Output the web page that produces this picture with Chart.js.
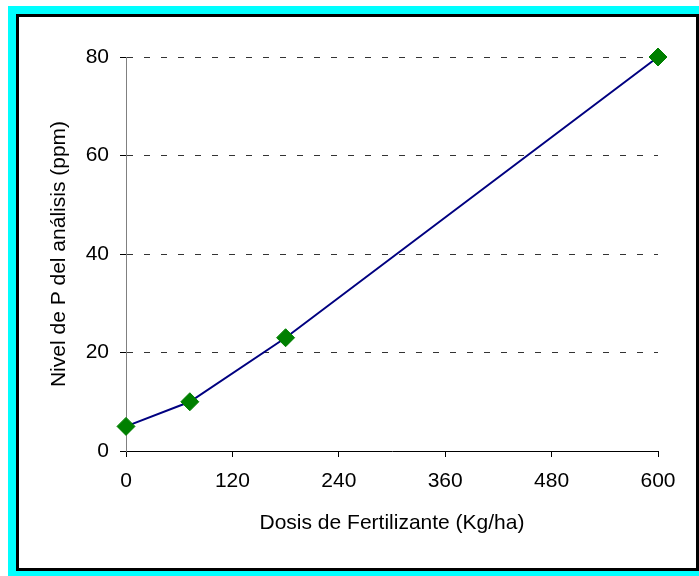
<!DOCTYPE html>
<html>
<head>
<meta charset="utf-8">
<script src="https://cdn.jsdelivr.net/npm/chart.js@4"></script>
<style>
  html, body { margin: 0; padding: 0; background: #fff; overflow: hidden; }
  #frame { position: absolute; left: 8px; top: 6px; width: 691px; height: 570px; background: #00ffff; }
  #box { position: absolute; left: 8px; top: 8px; width: 677px; height: 551px; border: 3px solid #000; background: #fff; }
  #myChart { display: block; }
</style>
</head>
<body>
<div id="frame">
  <div id="box">
    <canvas id="myChart" width="677" height="551"></canvas>
  </div>
</div>
<script>
// dosis (Kg/ha) vs nivel de P (ppm)
const dosis = [0, 72, 180, 600];
const nivelP = [5, 10, 23, 80];
const xTicks = [0, 120, 240, 360, 480, 600];
const yTicks = [0, 20, 40, 60, 80];

const fontFam = 'Arial, "Liberation Sans", sans-serif';

const ctx = document.getElementById('myChart').getContext('2d');
const chart = new Chart(ctx, {
	type: 'scatter',
	data: {
		datasets: [{
			data: dosis.map((d, i) => ({ x: d, y: nivelP[i] })),
			showLine: true,
			clip: false,
			borderColor: '#000080',
			borderWidth: 2,
			pointStyle: 'rectRot',
			pointRadius: 9,
			pointHoverRadius: 9,
			pointBackgroundColor: '#008000',
			pointBorderColor: '#008000',
			pointBorderWidth: 1
		}]
	},
	options: {
		responsive: false,
		animation: false,
		layout: { padding: { left: 0, right: 38, top: 40, bottom: 0 } },
		plugins: { legend: { display: false }, tooltip: { enabled: false } },
		scales: {
			x: {
				type: 'linear',
				min: 0,
				max: 600,
				afterBuildTicks: (s) => { s.ticks = xTicks.map(v => ({ value: v })); },
				afterFit: (s) => { s.height = 117; },
				grid: { drawOnChartArea: false, drawTicks: true, tickLength: 6, tickColor: '#000', tickWidth: 1 },
				border: { color: '#000', width: 1 },
				ticks: { color: '#000', font: { family: fontFam, size: 21 }, padding: 12, maxRotation: 0 },
				title: {
					display: true,
					text: 'Dosis de Fertilizante (Kg/ha)',
					color: '#000',
					font: { family: fontFam, size: 21 },
					padding: { top: 0, bottom: 32 }
				}
			},
			y: {
				min: 0,
				max: 80,
				afterBuildTicks: (s) => { s.ticks = yTicks.map(v => ({ value: v })); },
				afterFit: (s) => { s.width = 107; },
				grid: {
					color: (c) => c.tick && c.tick.value === 0 ? 'rgba(0,0,0,0)' : '#333',
					lineWidth: 1,
					drawTicks: true,
					tickLength: 6,
					tickColor: '#000',
					tickBorderDash: []
				},
				border: { color: '#808080', width: 1, dash: [6, 11] },
				ticks: { color: '#000', font: { family: fontFam, size: 21 }, padding: 11 },
				title: {
					display: true,
					text: 'Nivel de P del análisis (ppm)',
					color: '#000',
					font: { family: fontFam, size: 21 },
					padding: { top: 28, bottom: 0 }
				}
			}
		}
	}
});
</script>
</body>
</html>
